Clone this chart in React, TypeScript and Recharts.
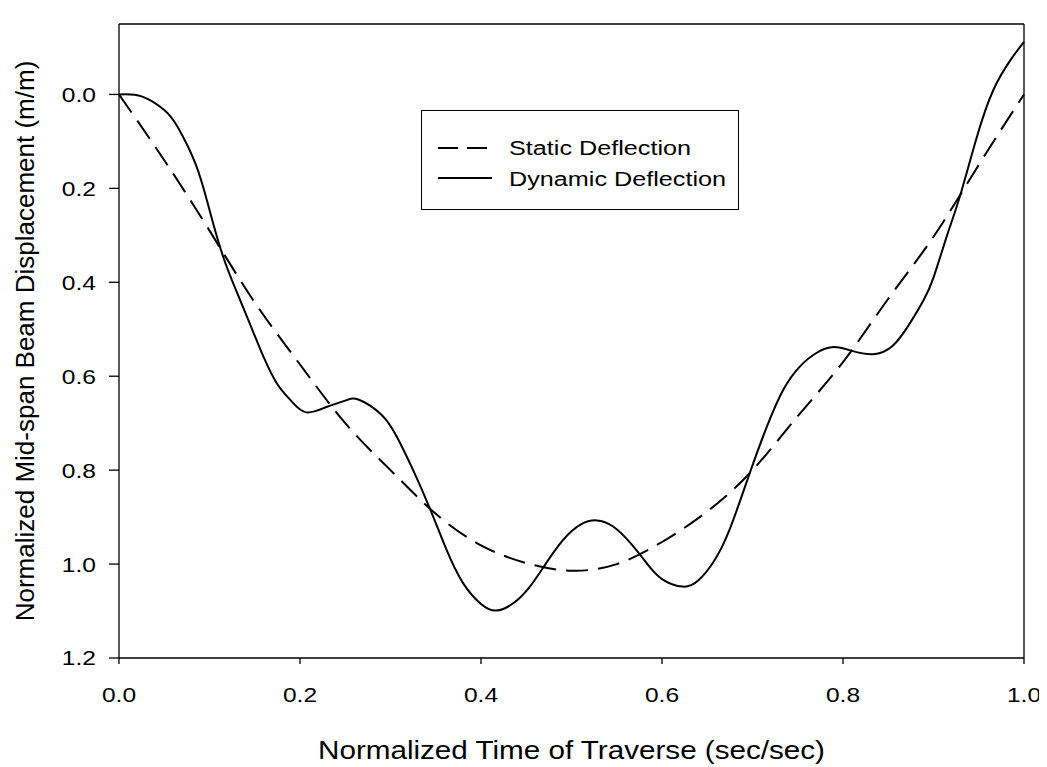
import { Label, Line, LineChart, ReferenceLine, XAxis, YAxis } from "recharts";

// normalised traverse time (sec/sec) and mid-span deflection (m/m)
const staticTime = [0, 0.05, 0.1, 0.15, 0.2, 0.25, 0.3, 0.35, 0.4, 0.45, 0.5, 0.55, 0.6, 0.65, 0.7, 0.75, 0.8, 0.85, 0.9, 0.95, 1.0];
const staticDeflection = [0, 0.14, 0.29, 0.443, 0.575, 0.7, 0.8, 0.893, 0.96, 0.998, 1.014, 1.0, 0.953, 0.888, 0.8, 0.685, 0.57, 0.435, 0.303, 0.15, 0.0];

const dynamicTime = [
  0, 0.025, 0.05, 0.065, 0.085, 0.1, 0.115, 0.13, 0.145, 0.16, 0.175, 0.19, 0.207, 0.23, 0.25, 0.265,
  0.29, 0.307, 0.325, 0.344, 0.362, 0.38, 0.4, 0.417, 0.436, 0.454, 0.472, 0.491, 0.51, 0.528, 0.546,
  0.565, 0.583, 0.6, 0.623, 0.64, 0.657, 0.675, 0.697, 0.716, 0.734, 0.752, 0.771, 0.79, 0.81, 0.833,
  0.855, 0.874, 0.889, 0.9, 0.915, 0.929, 0.948, 0.966, 0.985, 1.0,
];
const dynamicDeflection = [
  0, 0.004, 0.033, 0.07, 0.15, 0.246, 0.345, 0.42, 0.49, 0.56, 0.617, 0.652, 0.677, 0.665, 0.652, 0.65,
  0.682, 0.729, 0.8, 0.884, 0.97, 1.04, 1.085, 1.099, 1.083, 1.048, 0.998, 0.948, 0.916, 0.907, 0.92,
  0.955, 0.998, 1.032, 1.048, 1.035, 0.995, 0.925, 0.806, 0.707, 0.629, 0.58, 0.55, 0.538, 0.546, 0.553,
  0.535, 0.487, 0.438, 0.39, 0.3, 0.218, 0.09, -0.009, -0.073, -0.112,
];

const xTicks = [0, 0.2, 0.4, 0.6, 0.8, 1.0];
const yTicks = [0, 0.2, 0.4, 0.6, 0.8, 1.0, 1.2];

const staticData = staticTime.map((t, i) => ({ t, v: staticDeflection[i] }));
const dynamicData = dynamicTime.map((t, i) => ({ t, v: dynamicDeflection[i] }));

const FONT = "'Liberation Sans', Arial, sans-serif";
const DASH = "22 10";
// text in this figure is a little wider than the plain font
const STRETCH = 1.17;

type WideTextProps = {
  x: number;
  y: number;
  size: number;
  anchor?: "start" | "middle" | "end";
  dy?: string;
  sx?: number;
  children: React.ReactNode;
};

const WideText = ({ x, y, size, anchor = "start", dy, sx = STRETCH, children }: WideTextProps) => (
  <text
    transform={`translate(${x},${y}) scale(${sx},1)`}
    textAnchor={anchor}
    dy={dy}
    fontSize={size}
    fontFamily={FONT}
    fill="#000"
  >
    {children}
  </text>
);

const XTick = (props: any) => (
  <WideText x={props.x} y={props.y} size={21} anchor="middle" dy="0.71em">
    {Number(props.payload.value).toFixed(1)}
  </WideText>
);

const YTick = (props: any) => (
  <WideText x={props.x} y={props.y} size={21} anchor="end" dy="0.355em">
    {Number(props.payload.value).toFixed(1)}
  </WideText>
);

const XTitle = (props: any) => {
  const { x, y, width } = props.viewBox;
  return (
    <WideText x={x + width / 2} y={y + 101} size={26} anchor="middle" sx={1.14}>
      Normalized Time of Traverse (sec/sec)
    </WideText>
  );
};

const YTitle = (props: any) => {
  const { y, height } = props.viewBox;
  return (
    <text
      transform={`translate(26,${y + height / 2}) rotate(-90)`}
      textAnchor="middle"
      fontSize={26}
      fontFamily={FONT}
      fill="#000"
    >
      Normalized Mid-span Beam Displacement (m/m)
    </text>
  );
};

// legend drawn as a plain box over the plot area
const LegendBox = () => (
  <svg
    width={318}
    height={100}
    style={{ position: "absolute", left: 413, top: 102, display: "block" }}
  >
    <rect x={0.5} y={0.5} width={317} height={99} fill="#fff" stroke="#000" strokeWidth={1} />
    <line x1={17} y1={38} x2={71} y2={38} stroke="#000" strokeWidth={2} strokeDasharray="20 9" />
    <WideText x={88} y={45} size={21} sx={1.2}>
      Static Deflection
    </WideText>
    <line x1={17} y1={68} x2={71} y2={68} stroke="#000" strokeWidth={2} />
    <WideText x={88} y={76} size={21} sx={1.2}>
      Dynamic Deflection
    </WideText>
  </svg>
);

const App = () => (
  <div style={{ position: "relative", width: 1039, height: 759 }}>
    <LineChart
      width={1039}
      height={759}
      margin={{ top: 16, right: 23, left: 0, bottom: 9 }}
      style={{ fontFamily: FONT }}
    >
      <XAxis
        type="number"
        dataKey="t"
        domain={[0, 1]}
        ticks={xTicks}
        allowDuplicatedCategory={false}
        height={100}
        stroke="#000"
        strokeWidth={1.3}
        tickSize={6}
        tickMargin={23}
        tick={<XTick />}
      >
        <Label content={<XTitle />} />
      </XAxis>
      <YAxis
        type="number"
        domain={[-0.15, 1.2]}
        reversed
        ticks={yTicks}
        width={111}
        stroke="#000"
        strokeWidth={1.3}
        tickSize={10}
        tickMargin={13}
        tick={<YTick />}
        allowDataOverflow
      >
        <Label content={<YTitle />} />
      </YAxis>
      {/* frame on the top and right */}
      <ReferenceLine y={-0.15} stroke="#000" strokeWidth={1.3} />
      <ReferenceLine x={1} stroke="#000" strokeWidth={1.3} />
      <Line
        data={staticData}
        dataKey="v"
        name="Static Deflection"
        type="natural"
        stroke="#000"
        strokeWidth={2}
        strokeDasharray={DASH}
        dot={false}
        activeDot={false}
        isAnimationActive={false}
      />
      <Line
        data={dynamicData}
        dataKey="v"
        name="Dynamic Deflection"
        type="natural"
        stroke="#000"
        strokeWidth={2}
        dot={false}
        activeDot={false}
        isAnimationActive={false}
      />
    </LineChart>
    <LegendBox />
  </div>
);

export default App;
